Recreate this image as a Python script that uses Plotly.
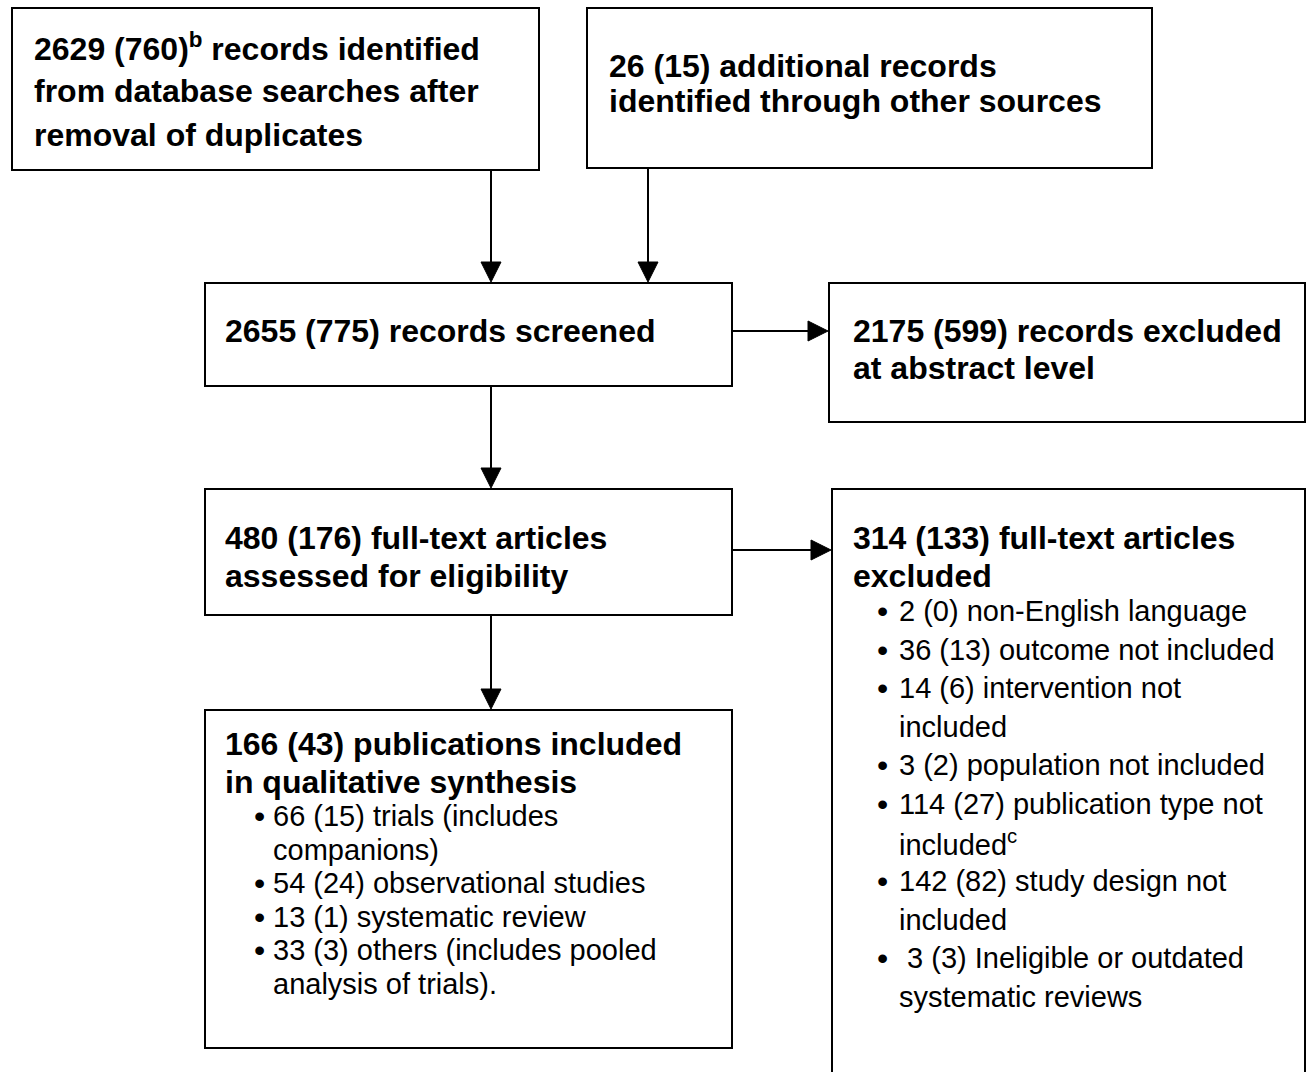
import plotly.graph_objects as go

# ---------------- data ----------------
stage_totals = [2629, 26, 2655, 2175, 480, 314, 166]
stage_subset = [760, 15, 775, 599, 176, 133, 43]

excluded_counts = [2, 36, 14, 3, 114, 142, 3]
excluded_subset = [0, 13, 6, 2, 27, 82, 3]
excluded_reasons = [
    ["non-English language"],
    ["outcome not included"],
    ["intervention not", "included"],
    ["population not included"],
    ["publication type not", "included<sup>c</sup>"],
    ["study design not", "included"],
    ["Ineligible or outdated", "systematic reviews"],
]

included_counts = [66, 54, 13, 33]
included_subset = [15, 24, 1, 3]
included_types = [
    ["trials (includes", "companions)"],
    ["observational studies"],
    ["systematic review"],
    ["others (includes pooled", "analysis of trials)."],
]

def ns(i):
    return f"{stage_totals[i]} ({stage_subset[i]})"

box_titles = [
    [f"{stage_totals[0]} ({stage_subset[0]})<sup>b</sup> records identified", "from database searches after", "removal of duplicates"],
    [f"{ns(1)} additional records", "identified through other sources"],
    [f"{ns(2)} records screened"],
    [f"{ns(3)} records excluded", "at abstract level"],
    [f"{ns(4)} full-text articles", "assessed for eligibility"],
    [f"{ns(5)} full-text articles", "excluded"],
    [f"{ns(6)} publications included", "in qualitative synthesis"],
]

# ---------------- layout (pixel coordinates) ----------------
W, H = 1306, 1072
boxes = [
    (12, 8, 539, 170),
    (587, 8, 1152, 168),
    (205, 283, 732, 386),
    (829, 283, 1305, 422),
    (205, 489, 732, 615),
    (832, 489, 1305, 1090),
    (205, 710, 732, 1048),
]
title_pos = [
    (33, [47, 91, 135]),
    (608, [66, 101]),
    (224, [331]),
    (852, [331, 368]),
    (224, [538, 576]),
    (852, [538, 576]),
    (224, [744, 782]),
]
TITLE_SIZE = 32
BULLET_SIZE = 29
FONT = "Liberation Sans, Arial, sans-serif"

fig = go.Figure()
shapes = []
annotations = []

LINE = dict(color="black", width=2)
for (x0, y0, x1, y1) in boxes:
    shapes.append(dict(type="rect", xref="x", yref="y", x0=x0, y0=y0, x1=x1, y1=y1,
                       line=LINE, fillcolor="rgba(0,0,0,0)", layer="above"))

def text(x, y, s, size, bold=False):
    annotations.append(dict(x=x, y=y, xref="x", yref="y", text=(f"<b>{s}</b>" if bold else s),
                            showarrow=False, xanchor="left", yanchor="middle", borderpad=0,
                            font=dict(size=size, color="black", family=FONT)))

for lines, (tx, ys) in zip(box_titles, title_pos):
    for s, y in zip(lines, ys):
        text(tx, y, s, TITLE_SIZE, bold=True)

def bullets(counts, subs, labels, bx, tx, y0, dy, pad_last=False):
    y = y0
    for k, (c, s, lab) in enumerate(zip(counts, subs, labels)):
        annotations.append(dict(x=bx, y=y, xref="x", yref="y", text="•", showarrow=False,
                                xanchor="center", yanchor="middle", borderpad=0,
                                font=dict(size=BULLET_SIZE + 3, color="black", family=FONT)))
        pad = "\u00a0" if (pad_last and k == len(labels) - 1) else ""
        for j, ln in enumerate(lab):
            s_txt = f"{pad}{c} ({s}) {ln}" if j == 0 else ln
            text(tx, y, s_txt, BULLET_SIZE)
            y += dy
    return y

bullets(excluded_counts, excluded_subset, excluded_reasons, 882, 898, 611, 38.6, pad_last=True)
bullets(included_counts, included_subset, included_types, 259, 272, 816, 33.6)

# ---------------- arrows ----------------
def varrow(x, y0, y1):
    shapes.append(dict(type="line", xref="x", yref="y", x0=x, y0=y0, x1=x, y1=y1 - 16, line=LINE))
    shapes.append(dict(type="path", xref="x", yref="y",
                       path=f"M {x} {y1} L {x-10} {y1-20} L {x+10} {y1-20} Z",
                       fillcolor="black", line=dict(color="black", width=1)))

def harrow(y, x0, x1):
    shapes.append(dict(type="line", xref="x", yref="y", x0=x0, y0=y, x1=x1 - 16, y1=y, line=LINE))
    shapes.append(dict(type="path", xref="x", yref="y",
                       path=f"M {x1} {y} L {x1-20} {y-10} L {x1-20} {y+10} Z",
                       fillcolor="black", line=dict(color="black", width=1)))

varrow(491, 170, 282)
varrow(648, 168, 282)
varrow(491, 386, 488)
varrow(491, 615, 709)
harrow(331, 732, 828)
harrow(550, 732, 831)

fig.update_layout(
    width=W, height=H,
    margin=dict(l=0, r=0, t=0, b=0),
    paper_bgcolor="white", plot_bgcolor="white",
    xaxis=dict(range=[0, W], visible=False, fixedrange=True),
    yaxis=dict(range=[H, 0], visible=False, fixedrange=True),
    shapes=shapes, annotations=annotations, showlegend=False,
)
fig.write_html("out.html", config={"displayModeBar": False},
               post_script="document.body.style.margin='0';document.body.style.overflow='hidden';")
